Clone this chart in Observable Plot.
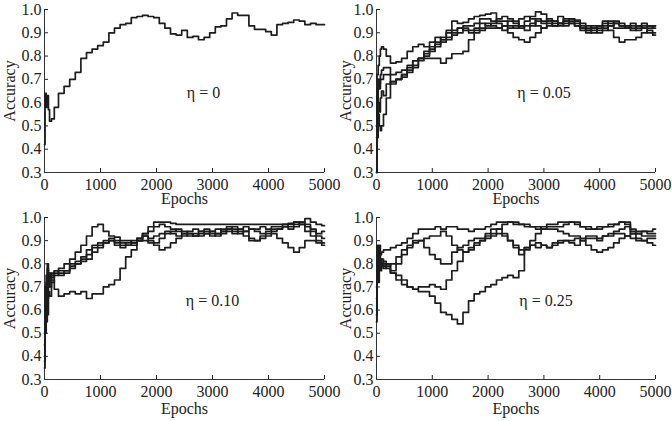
<!DOCTYPE html>
<html><head><meta charset="utf-8">
<script src="https://cdn.jsdelivr.net/npm/d3@7"></script>
<script src="https://cdn.jsdelivr.net/npm/@observablehq/plot@0.6"></script>
<style>
body{margin:0;background:#fff;}
#wrap{position:relative;width:672px;height:421px;overflow:hidden;}
#wrap svg{position:absolute;overflow:visible;background:transparent !important;}
#wrap svg, #wrap svg text, #wrap svg g {font-family:"Liberation Serif", "Times New Roman", serif !important;font-size:16px !important;}
</style></head><body><div id="wrap"></div>
<script>
const epochs = [0,20,40,60,80,100,150,200,300,400,500,600,700,800,900,1000,1100,1200,1300,1400,1500,1600,1700,1800,1900,2000,2100,2200,2300,2400,2500,2600,2700,2800,2900,3000,3100,3200,3300,3400,3500,3600,3700,3800,3900,4000,4100,4200,4300,4400,4500,4600,4700,4800,4900,5000];
const xTicks = [0,1000,2000,3000,4000,5000];
const yTicks = [0.3,0.4,0.5,0.6,0.7,0.8,0.9,1.0];
const xDomain = [0,5000];
const yDomain = [0.3,1.0];
const panelLabels = ["η = 0","η = 0.05","η = 0.10","η = 0.25"];

// η = 0
const eta0Run1 = [0.42,0.64,0.58,0.63,0.57,0.52,0.53,0.58,0.64,0.67,0.70,0.73,0.79,0.815,0.83,0.845,0.86,0.90,0.92,0.935,0.94,0.965,0.97,0.975,0.97,0.965,0.94,0.92,0.895,0.89,0.91,0.88,0.885,0.87,0.88,0.90,0.925,0.93,0.96,0.985,0.975,0.975,0.93,0.915,0.915,0.905,0.89,0.935,0.94,0.945,0.955,0.95,0.935,0.94,0.935,0.935];

// η = 0.05
const eta05Run1 = [0.50,0.72,0.76,0.80,0.83,0.84,0.83,0.80,0.77,0.775,0.79,0.82,0.84,0.85,0.84,0.86,0.88,0.87,0.91,0.95,0.94,0.945,0.96,0.97,0.975,0.98,0.985,0.95,0.95,0.93,0.92,0.93,0.95,0.97,0.99,0.98,0.95,0.93,0.94,0.96,0.96,0.955,0.93,0.90,0.91,0.93,0.92,0.95,0.94,0.93,0.92,0.93,0.92,0.93,0.92,0.93];
const eta05Run2 = [0.30,0.45,0.55,0.50,0.48,0.50,0.55,0.62,0.69,0.70,0.72,0.75,0.78,0.79,0.79,0.79,0.79,0.77,0.79,0.81,0.81,0.82,0.87,0.90,0.91,0.92,0.92,0.92,0.93,0.90,0.88,0.87,0.86,0.88,0.90,0.92,0.94,0.93,0.94,0.95,0.94,0.93,0.92,0.91,0.90,0.92,0.93,0.91,0.88,0.86,0.87,0.87,0.88,0.90,0.91,0.90];
const eta05Run3 = [0.30,0.60,0.66,0.68,0.70,0.70,0.72,0.72,0.68,0.70,0.71,0.74,0.76,0.79,0.81,0.83,0.86,0.87,0.90,0.91,0.92,0.93,0.93,0.94,0.96,0.96,0.95,0.94,0.93,0.95,0.94,0.93,0.91,0.93,0.95,0.94,0.95,0.95,0.97,0.95,0.96,0.95,0.92,0.91,0.92,0.91,0.94,0.93,0.94,0.93,0.92,0.94,0.93,0.92,0.93,0.92];
const eta05Run4 = [0.50,0.62,0.70,0.66,0.72,0.74,0.75,0.75,0.72,0.73,0.74,0.76,0.78,0.79,0.82,0.84,0.85,0.88,0.88,0.90,0.92,0.91,0.90,0.91,0.92,0.94,0.93,0.92,0.91,0.92,0.93,0.96,0.97,0.96,0.93,0.92,0.93,0.94,0.93,0.94,0.95,0.94,0.94,0.92,0.93,0.90,0.91,0.93,0.95,0.94,0.93,0.92,0.91,0.92,0.90,0.89];
const eta05Run5 = [0.45,0.55,0.60,0.56,0.62,0.65,0.63,0.68,0.69,0.70,0.72,0.73,0.75,0.78,0.80,0.82,0.84,0.86,0.87,0.89,0.90,0.92,0.91,0.92,0.94,0.93,0.94,0.96,0.97,0.96,0.95,0.92,0.93,0.94,0.96,0.95,0.96,0.95,0.94,0.93,0.94,0.93,0.91,0.93,0.92,0.93,0.95,0.94,0.92,0.92,0.93,0.91,0.93,0.94,0.93,0.93];

// η = 0.10
const eta10Run1 = [0.40,0.60,0.72,0.78,0.74,0.76,0.75,0.77,0.78,0.80,0.82,0.85,0.88,0.92,0.96,0.97,0.94,0.92,0.915,0.90,0.90,0.89,0.90,0.90,0.89,0.88,0.86,0.87,0.89,0.91,0.92,0.93,0.92,0.93,0.94,0.93,0.92,0.93,0.94,0.93,0.94,0.92,0.90,0.90,0.91,0.92,0.93,0.91,0.89,0.87,0.85,0.87,0.90,0.90,0.89,0.88];
const eta10Run2 = [0.50,0.70,0.75,0.80,0.76,0.70,0.73,0.69,0.66,0.67,0.68,0.67,0.68,0.65,0.67,0.67,0.70,0.71,0.73,0.78,0.83,0.86,0.90,0.93,0.96,0.98,0.98,0.98,0.975,0.97,0.97,0.97,0.97,0.97,0.97,0.97,0.97,0.97,0.97,0.97,0.97,0.97,0.97,0.97,0.97,0.97,0.97,0.97,0.97,0.975,0.98,0.98,0.995,0.98,0.97,0.965];
const eta10Run3 = [0.35,0.55,0.70,0.65,0.75,0.72,0.76,0.77,0.76,0.77,0.79,0.80,0.82,0.84,0.87,0.88,0.89,0.90,0.89,0.88,0.89,0.90,0.91,0.93,0.94,0.96,0.97,0.96,0.95,0.94,0.93,0.94,0.95,0.94,0.93,0.94,0.95,0.94,0.95,0.96,0.95,0.94,0.95,0.95,0.96,0.95,0.96,0.96,0.97,0.96,0.97,0.98,0.97,0.95,0.93,0.94];
const eta10Run4 = [0.45,0.60,0.55,0.72,0.70,0.75,0.74,0.76,0.75,0.77,0.80,0.81,0.81,0.82,0.85,0.87,0.89,0.90,0.88,0.87,0.88,0.88,0.90,0.92,0.91,0.92,0.93,0.94,0.93,0.92,0.93,0.92,0.93,0.92,0.93,0.92,0.93,0.94,0.95,0.94,0.95,0.96,0.95,0.94,0.93,0.94,0.95,0.95,0.96,0.95,0.96,0.97,0.94,0.92,0.90,0.89];
const eta10Run5 = [0.38,0.50,0.66,0.58,0.68,0.66,0.72,0.75,0.77,0.76,0.78,0.80,0.83,0.86,0.88,0.89,0.90,0.91,0.90,0.89,0.88,0.89,0.91,0.92,0.90,0.89,0.91,0.93,0.94,0.95,0.94,0.93,0.92,0.94,0.95,0.94,0.93,0.95,0.96,0.95,0.93,0.94,0.91,0.90,0.92,0.93,0.94,0.95,0.96,0.97,0.98,0.97,0.96,0.94,0.92,0.91];

// η = 0.25
const eta25Run1 = [0.55,0.85,0.80,0.88,0.84,0.85,0.86,0.86,0.87,0.88,0.89,0.91,0.93,0.95,0.95,0.95,0.96,0.95,0.96,0.96,0.95,0.95,0.94,0.95,0.95,0.96,0.97,0.98,0.98,0.98,0.97,0.97,0.96,0.96,0.96,0.95,0.96,0.96,0.96,0.97,0.98,0.98,0.96,0.96,0.95,0.96,0.96,0.97,0.97,0.98,0.97,0.95,0.94,0.94,0.93,0.93];
const eta25Run2 = [0.60,0.80,0.72,0.82,0.78,0.80,0.78,0.80,0.76,0.73,0.71,0.70,0.69,0.68,0.68,0.66,0.63,0.59,0.58,0.56,0.54,0.59,0.64,0.67,0.68,0.70,0.71,0.73,0.74,0.75,0.74,0.77,0.87,0.88,0.87,0.88,0.87,0.88,0.89,0.90,0.90,0.91,0.91,0.92,0.92,0.91,0.92,0.92,0.93,0.93,0.92,0.91,0.90,0.90,0.89,0.88];
const eta25Run3 = [0.65,0.82,0.78,0.80,0.77,0.80,0.79,0.78,0.76,0.75,0.73,0.70,0.69,0.70,0.70,0.71,0.70,0.69,0.73,0.77,0.81,0.85,0.87,0.89,0.90,0.92,0.93,0.95,0.97,0.98,0.98,0.97,0.97,0.96,0.95,0.96,0.97,0.97,0.98,0.98,0.98,0.97,0.96,0.95,0.95,0.95,0.96,0.96,0.97,0.98,0.98,0.94,0.93,0.92,0.92,0.92];
const eta25Run4 = [0.70,0.88,0.80,0.84,0.80,0.82,0.80,0.79,0.80,0.83,0.86,0.88,0.90,0.90,0.87,0.84,0.82,0.80,0.80,0.85,0.87,0.88,0.90,0.91,0.91,0.93,0.95,0.95,0.93,0.90,0.87,0.84,0.86,0.90,0.93,0.95,0.95,0.95,0.94,0.93,0.92,0.92,0.90,0.88,0.86,0.85,0.86,0.87,0.89,0.91,0.92,0.93,0.93,0.94,0.94,0.95];
const eta25Run5 = [0.58,0.80,0.86,0.78,0.82,0.79,0.81,0.80,0.77,0.80,0.84,0.87,0.89,0.90,0.91,0.92,0.92,0.94,0.92,0.88,0.86,0.85,0.86,0.88,0.90,0.91,0.92,0.93,0.92,0.90,0.88,0.86,0.87,0.88,0.89,0.88,0.87,0.89,0.90,0.90,0.89,0.88,0.90,0.91,0.91,0.90,0.92,0.93,0.94,0.95,0.96,0.93,0.91,0.90,0.91,0.91];

const panels = [
  {runs:[eta0Run1], label:panelLabels[0], left:0, top:0, h:210, ml:44, mr:12, mt:9, mb:38, ldx:19, lxo:31},
  {runs:[eta05Run1,eta05Run2,eta05Run3,eta05Run4,eta05Run5], label:panelLabels[1], left:336, top:0, h:210, ml:40, mr:17, mt:9, mb:38, ldx:28, lxo:31},
  {runs:[eta10Run1,eta10Run2,eta10Run3,eta10Run4,eta10Run5], label:panelLabels[2], left:0, top:210, h:211, ml:44, mr:12, mt:7, mb:42, ldx:28, lxo:34},
  {runs:[eta25Run1,eta25Run2,eta25Run3,eta25Run4,eta25Run5], label:panelLabels[3], left:336, top:210, h:211, ml:40, mr:17, mt:7, mb:42, ldx:30, lxo:34}
];

const wrap = document.getElementById("wrap");
for (const p of panels) {
  const rows = p.runs.flatMap((run, k) => run.map((v, i) => ({epoch: epochs[i], acc: v, run: k})));
  const chart = Plot.plot({
    width: 336, height: p.h,
    marginLeft: p.ml, marginRight: p.mr, marginTop: p.mt, marginBottom: p.mb,
    style: {fontFamily: "Liberation Serif", fontSize: "16px", color: "#222", background: "transparent", overflow: "visible"},
    x: {domain: xDomain},
    y: {domain: yDomain},
    marks: [
      Plot.axisX({ticks: xTicks, tickFormat: d3.format("d"), tickSize: -4, tickPadding: 10, fontSize: 16,
                  label: "Epochs", labelAnchor: "center", labelOffset: p.lxo, labelArrow: "none"}),
      Plot.axisY({ticks: yTicks, tickFormat: d3.format(".1f"), tickSize: -4, tickPadding: 7, fontSize: 16,
                  label: "Accuracy", labelAnchor: "center", labelOffset: p.ml - 3, labelArrow: "none"}),
      Plot.ruleY([yDomain[0]], {stroke: "#333", strokeWidth: 1}),
      Plot.ruleX([xDomain[0]], {stroke: "#333", strokeWidth: 1}),
      Plot.line(rows, {x: "epoch", y: "acc", z: "run", curve: "step", stroke: "#1c1c1c", strokeWidth: 1.7}),
      Plot.text([p.label], {frameAnchor: "middle", dx: p.ldx, dy: 2, fontSize: 16, fill: "#222"})
    ]
  });
  chart.style.left = p.left + "px";
  chart.style.top = p.top + "px";
  wrap.appendChild(chart);
}
</script></body></html>
